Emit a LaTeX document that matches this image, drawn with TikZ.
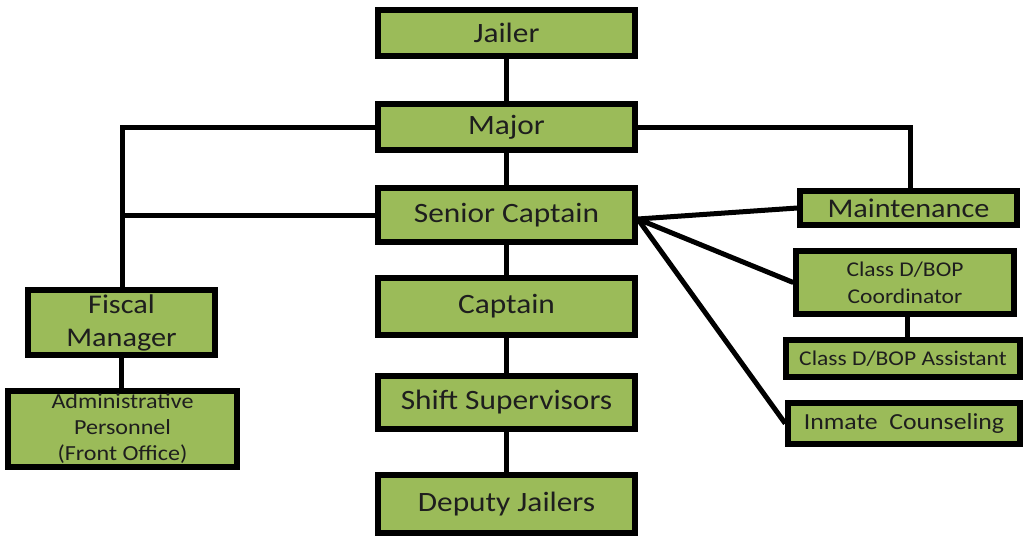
\documentclass[tikz,border=0pt]{standalone}
\usepackage{fontspec}
\setmainfont{Carlito}
\newfontfamily\boxfont[FakeStretch=1.12]{Carlito}
\usetikzlibrary{calc}
\definecolor{boxgreen}{HTML}{9BBB59}
\definecolor{boxtext}{HTML}{1E1E1E}
\tikzset{
  orgbox/.style={draw=black, line width=5.5pt, fill=boxgreen, text=boxtext,
    rectangle, inner sep=0pt, align=center, font=\boxfont\fontsize{28}{33}\selectfont},
  link/.style={draw=black, line width=5pt}
}
\begin{document}
\begin{tikzpicture}[x=1pt, y=-1pt]
\useasboundingbox (0,0) rectangle (1025,536);

% central chain of command
\node[orgbox, minimum width=257pt, minimum height=46pt] (jailer)  at (506.5,33)    {Jailer};
\node[orgbox, minimum width=257pt, minimum height=46pt] (major)   at (506.5,127)   {Major};
\node[orgbox, minimum width=257pt, minimum height=54pt] (senior)  at (506.5,215)   {Senior Captain};
\node[orgbox, minimum width=257pt, minimum height=57pt] (captain) at (506.5,306.5) {Captain};
\node[orgbox, minimum width=257pt, minimum height=53pt] (shift)   at (506.5,402.5) {Shift Supervisors};
\node[orgbox, minimum width=257pt, minimum height=58pt] (deputy)  at (506.5,504)   {Deputy Jailers};

% administration branch
\node[orgbox, minimum width=187pt, minimum height=65pt, font=\boxfont\fontsize{27}{33}\selectfont] (fiscal) at (121.5,322.5) {Fiscal\\Manager};
\node[orgbox, minimum width=229pt, minimum height=76pt, font=\boxfont\fontsize{21.5}{26}\selectfont] (admin) at (122.5,429) {Administrative\\Personnel\\(Front Office)};

% support branch
\node[orgbox, minimum width=217pt, minimum height=34pt, font=\boxfont\fontsize{27}{30}\selectfont] (maint) at (908.5,208) {Maintenance};
\node[orgbox, minimum width=218pt, minimum height=63pt, font=\boxfont\fontsize{21}{27}\selectfont] (coord) at (905,282.5) {Class D/BOP\\Coordinator};
\node[orgbox, minimum width=234pt, minimum height=37pt, font=\boxfont\fontsize{21}{26}\selectfont] (assist) at (903,358.5) {Class D/BOP Assistant};
\node[orgbox, minimum width=232pt, minimum height=41pt, font=\boxfont\fontsize{23}{28}\selectfont] (inmate) at (904,423.5) {Inmate\ \ Counseling};

% junction points of the connectors
\coordinate (hub) at ($(senior.east)+(0,4)$);
\coordinate (leftrail) at (122,127);
\coordinate (rightrail) at (910,127);

% vertical chain
\draw[link] (jailer.south) -- (major.north);
\draw[link] (major.south) -- (senior.north);
\draw[link] (senior.south) -- (captain.north);
\draw[link] (captain.south) -- (shift.north);
\draw[link] (shift.south) -- (deputy.north);

% left branch
\draw[link] (major.west) -- (leftrail) -- (leftrail |- fiscal.north);
\draw[link] (senior.west) -- (leftrail |- senior.west);
\draw[link] (fiscal.south) -- (fiscal.south |- admin.north);

% right branch
\draw[link] (major.east) -- (rightrail) -- (rightrail |- maint.north);
\draw[link] (hub) -- (maint.west);
\draw[link] (hub) -- (coord.west);
\draw[link] (hub) -- (inmate.west);
\draw[link] (coord.south -| 907,0) -- (assist.north -| 907,0);
\end{tikzpicture}
\end{document}
